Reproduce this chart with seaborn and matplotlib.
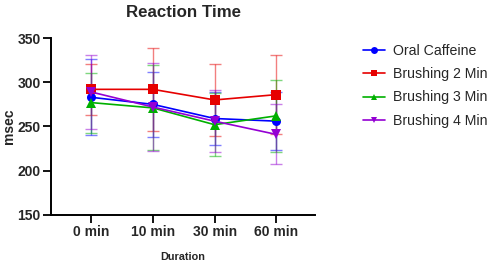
import matplotlib
matplotlib.use("Agg")
import matplotlib.pyplot as plt
import seaborn as sns
import pandas as pd
from matplotlib.lines import Line2D

durations = ["0 min", "10 min", "30 min", "60 min"]
series = ["Oral Caffeine", "Brushing 2 Min", "Brushing 3 Min", "Brushing 4 Min"]
oral_caffeine = [283, 275, 259, 256]
oral_caffeine_err = [43, 37, 30, 33]
brushing_2 = [292, 292, 280, 286]
brushing_2_err = [29, 47, 41, 45]
brushing_3 = [277, 271, 252, 262]
brushing_3_err = [34, 48, 36, 41]
brushing_4 = [289, 272, 256, 241]
brushing_4_err = [42, 50, 35, 34]

means = [oral_caffeine, brushing_2, brushing_3, brushing_4]
errs = [oral_caffeine_err, brushing_2_err, brushing_3_err, brushing_4_err]
colors = ["#0000ff", "#e60000", "#00b000", "#9400d3"]
markers = ["o", "s", "^", "v"]

rows = []
for s, m, e in zip(series, means, errs):
    for d, v, ev in zip(durations, m, e):
        rows.append({"Duration": d, "msec": v, "err": ev, "Group": s})
df = pd.DataFrame(rows)

sns.set_style("ticks")
plt.rcParams["font.family"] = ["Liberation Sans", "DejaVu Sans"]

fig = plt.figure(figsize=(4.87, 2.61), dpi=100)
ax = fig.add_axes([0.105, 0.177, 0.542, 0.677])

xpos = {d: i for i, d in enumerate(durations)}
for s, c in zip(series, colors):
    sub = df[df.Group == s]
    ax.errorbar(sub.Duration.map(xpos), sub.msec, yerr=sub.err, fmt="none",
                ecolor=c, alpha=0.5, elinewidth=1.0, capsize=4, capthick=1.0, zorder=2)

sns.lineplot(data=df, x="Duration", y="msec", hue="Group", style="Group",
             hue_order=series, style_order=series, palette=colors,
             markers=markers, dashes=False, markersize=6.5, linewidth=1.2,
             markeredgewidth=0, sort=False, ax=ax, legend=False, zorder=3)

ax.set_ylim(150, 350)
ax.set_yticks([150, 200, 250, 300, 350])
ax.set_xlim(-0.65, 3.63)
ax.set_xticks(range(len(durations)))
ax.set_xticklabels(durations)
for sp in ["top", "right"]:
    ax.spines[sp].set_visible(False)
for sp in ["left", "bottom"]:
    ax.spines[sp].set_linewidth(1.4)
    ax.spines[sp].set_color("black")
ax.tick_params(axis="both", width=1.3, length=5.5, color="black", labelsize=10, pad=2)
for lbl in ax.get_xticklabels() + ax.get_yticklabels():
    lbl.set_fontweight("bold")
ax.set_ylabel("msec", fontsize=10, fontweight="bold", labelpad=1)
ax.set_xlabel("Duration", fontsize=7.8, fontweight="bold", labelpad=9)
ax.set_title("Reaction Time", fontsize=12.2, fontweight="bold", pad=15)

handles = [Line2D([0], [0], color=c, marker=m, markersize=5, linewidth=1.2, markeredgewidth=0)
           for c, m in zip(colors, markers)]
fig.legend(handles, series, loc="upper left", bbox_to_anchor=(0.733, 0.855),
           frameon=False, fontsize=10.2, handlelength=1.6, handletextpad=0.55,
           labelspacing=0.67, borderaxespad=0)

fig.savefig("out.png", dpi=100)
